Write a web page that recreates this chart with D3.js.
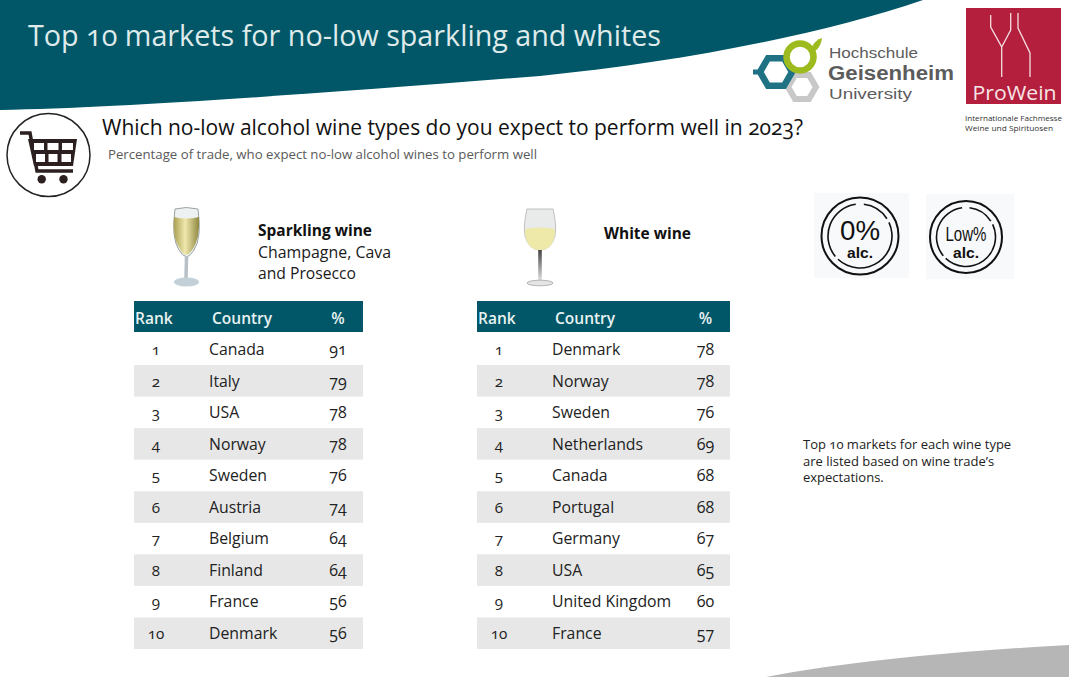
<!DOCTYPE html>
<html><head><meta charset="utf-8">
<script src="https://cdn.jsdelivr.net/npm/d3@7"></script>
<style>
html,body{margin:0;padding:0;background:#fff;overflow:hidden}
svg{display:block}
text{font-family:"Open Sans","Noto Sans",sans-serif;font-feature-settings:"onum";font-variant-numeric:oldstyle-nums}
text.lib{font-family:"Liberation Sans",sans-serif;font-feature-settings:normal;font-variant-numeric:normal}
</style></head><body>
<svg id="c" width="1080" height="694"></svg>
<script>
const ranks=[1,2,3,4,5,6,7,8,9,10];
const sparklingCountries=["Canada","Italy","USA","Norway","Sweden","Austria","Belgium","Finland","France","Denmark"];
const sparklingValues=[91,79,78,78,76,74,64,64,56,56];
const whiteCountries=["Denmark","Norway","Sweden","Netherlands","Canada","Portugal","Germany","USA","United Kingdom","France"];
const whiteValues=[78,78,76,69,68,68,67,65,60,57];
const headers=["Rank","Country","%"];
const teal="#015767";
const svg=d3.select("#c");
const T=(x,y,s,size,o={})=>{const t=svg.append("text").attr("x",x).attr("y",y).text(s).attr("font-size",size)
  .attr("fill",o.fill||"#1a1a1a").attr("font-weight",o.w||400).attr("text-anchor",o.a||"start");
  if(o.c)t.attr("class",o.c); if(o.len)t.attr("textLength",o.len).attr("lengthAdjust","spacingAndGlyphs"); return t;};

// banner
svg.append("path").attr("d","M0,0H923C820,35 680,62 540,76C300,95 120,108 0,110Z").attr("fill",teal);
T(28,46,"Top 10 markets for no-low sparkling and whites",28.7,{fill:"#dfeaea",len:633});
// bottom band
svg.append("path").attr("d","M766,677C850,661 960,651 1069,645V677Z").attr("fill","#b6b6b6");

// heading
T(102,135,"Which no-low alcohol wine types do you expect to perform well in 2023?",21,{fill:"#111",len:701});
T(108,159,"Percentage of trade, who expect no-low alcohol wines to perform well",13,{fill:"#5a5a5a",len:429});

// cart icon
const ink="#2b1f1f";
const cart=svg.append("g");
cart.append("circle").attr("cx",48.5).attr("cy",155).attr("r",41.5).attr("fill","#fff").attr("stroke","#222").attr("stroke-width",1.5);
cart.append("path").attr("d","M20,133H30L37,171H73").attr("fill","none").attr("stroke",ink).attr("stroke-width",3.5);
cart.append("path").attr("d","M28,139H77L73,166H34Z").attr("fill",ink);
[[34,143,10,7],[47.5,143,11,7],[62,143,11,7],[36,154,9,8],[48.5,154,9,8],[61.5,154,9.5,8]].forEach(p=>
  cart.append("rect").attr("x",p[0]).attr("y",p[1]).attr("width",p[2]).attr("height",p[3]).attr("fill","#fff"));
[41.7,63.5].forEach(x=>cart.append("circle").attr("cx",x).attr("cy",179.3).attr("r",4.2).attr("fill",ink));

// sparkling glass
const g1=svg.append("g");
const defs=svg.append("defs");
const lg=defs.append("linearGradient").attr("id","chmp");
[["0","#a89f50"],["0.45","#f0e8ad"],["1","#8f8840"]].forEach(s=>lg.append("stop").attr("offset",s[0]).attr("stop-color",s[1]));
const lw=defs.append("linearGradient").attr("id","stem").attr("x1",0).attr("x2",0).attr("y1",0).attr("y2",1);
[["0","#444"],["1","#ddd"]].forEach(s=>lw.append("stop").attr("offset",s[0]).attr("stop-color",s[1]));
g1.append("path").attr("d","M175,209Q186,206 198,209Q202,238 194,250Q190,256 187,257Q182,256 179,250Q171,238 175,209Z").attr("fill","#eef1f1").attr("stroke","#9aa3a3");
g1.append("path").attr("d","M174,217Q186,220 199,217Q200,238 193,249Q189,254 187,255Q182,254 180,249Q172,238 174,217Z").attr("fill","url(#chmp)");
g1.append("path").attr("d","M186.5,256L186,279").attr("stroke","#b7c1c7").attr("stroke-width",3.5);
g1.append("ellipse").attr("cx",186.5).attr("cy",282).attr("rx",12.5).attr("ry",4.5).attr("fill","#c3d0d8");

// white glass
const g2=svg.append("g");
g2.append("path").attr("d","M527,209H553Q557,225 555,236Q551,250 540,250Q529,250 525,236Q523,225 527,209Z").attr("fill","#e9eaea").attr("stroke","#aaa").attr("stroke-width",.7);
g2.append("path").attr("d","M525,229Q540,226 555,229Q555,250 540,250Q525,250 525,229Z").attr("fill","#efe9a9");
g2.append("rect").attr("x",538.2).attr("y",250).attr("width",3.6).attr("height",30).attr("fill","url(#stem)");
g2.append("ellipse").attr("cx",540).attr("cy",283).attr("rx",13).attr("ry",2.8).attr("fill","#e5e5e5").attr("stroke","#999").attr("stroke-width",.7);

// type labels
T(258,236,"Sparkling wine",15.4,{w:700,fill:"#111",len:114});
T(258,258,"Champagne, Cava",15.9,{len:133});
T(258,279,"and Prosecco",15.9,{len:98});
T(604,238.5,"White wine",15.4,{w:700,fill:"#111",len:87});

// alcohol badges
function ring(cx,cy,r){
  const arc=d3.arc().innerRadius(r-.8).outerRadius(r+.8);
  [[0.12,1.0],[1.13,3.9],[4.02,6.15]].forEach(a=>svg.append("path")
    .attr("transform",`translate(${cx},${cy})`).attr("d",arc({startAngle:a[0],endAngle:a[1]})).attr("fill","#111"));
}
function badge(cx,cy,bx,bw,top,bottom,topSize,topY,r,topLen){
  svg.append("rect").attr("x",bx).attr("y",cy-43).attr("width",bw).attr("height",85).attr("fill","#f8f9fa");
  svg.append("circle").attr("cx",cx).attr("cy",cy).attr("r",r).attr("fill","none").attr("stroke","#111").attr("stroke-width",2);
  ring(cx,cy,r-6.5);
  T(cx,topY,top,topSize,{a:"middle",fill:"#111",c:"lib",len:topLen});
  T(cx,258,bottom,14,{a:"middle",w:700,fill:"#111",c:"lib",len:26});
}
badge(860,236,814,95,"0%","alc.",28,240,38.5,40);
badge(966,237,926,88,"Low%","alc.",20,241,36,41);

// hochschule logo
const logo=svg.append("g").attr("fill","none");
const hex=(cx,cy,r)=>d3.range(6).map(i=>[cx+r*Math.cos(i*Math.PI/3),cy+r*Math.sin(i*Math.PI/3)]);
logo.append("path").attr("d",d3.line()(hex(802,87,14))+"Z").attr("stroke","#c8c8c8").attr("stroke-width",6);
logo.append("path").attr("d",d3.line()(hex(776,72,16))+"Z").attr("stroke","#1f7184").attr("stroke-width",6.5);
logo.append("circle").attr("cx",800).attr("cy",57).attr("r",13.5).attr("stroke","#9dbb1e").attr("stroke-width",6.5);
logo.append("path").attr("d","M812,47Q815,40 822,38Q821,47 815,51Z").attr("fill","#9dbb1e");
logo.append("path").attr("d","M753,72H760").attr("stroke","#1f7184").attr("stroke-width",5);
T(829,57.5,"Hochschule",15.5,{fill:"#5c5c5c",c:"lib",len:89});
T(828,80,"Geisenheim",20,{fill:"#5c5c5c",w:700,c:"lib",len:126});
T(829,99,"University",15.5,{fill:"#5c5c5c",c:"lib",len:83});

// prowein logo
svg.append("rect").attr("x",966).attr("y",8).attr("width",95).attr("height",96).attr("fill","#b51f3e");
svg.append("path").attr("d","M990.7,15V27L1001.7,47V77M1010.7,13V30L1001.7,47M1018,13V28L1030,53V77").attr("fill","none").attr("stroke","#f3dfe0").attr("stroke-width",1.3);
T(1014.5,100,"ProWein",20.5,{a:"middle",fill:"#f5e6e6",len:84});
T(965,121,"Internationale Fachmesse",8,{fill:"#333",len:97});
T(965,131,"Weine und Spirituosen",8,{fill:"#333",len:88});

// tables
function table(x0,width,valCx,countries,values){
  const y=d3.scaleBand().domain(ranks).range([333.5,649]);
  svg.append("rect").attr("x",x0).attr("y",301).attr("width",width).attr("height",31).attr("fill",teal);
  const hs={fill:"#e8f2f2",w:600};
  T(x0+1,323.5,headers[0],15.5,hs);
  T(x0+78,323.5,headers[1],15.5,hs);
  T(valCx,323.5,headers[2],15.5,{...hs,a:"middle"});
  ranks.forEach((r,i)=>{
    if(i%2===1) svg.append("rect").attr("x",x0).attr("y",y(r)).attr("width",width).attr("height",y.bandwidth()).attr("fill","#e7e7e7");
    const by=y(r)+y.bandwidth()/2+5.8;
    T(x0+22,by,r,15.2,{a:"middle",fill:"#222"});
    T(x0+75,by,countries[i],15.8,{fill:"#222"});
    T(valCx,by,values[i],16,{a:"middle",fill:"#222"});
  });
}
table(134,229,338,sparklingCountries,sparklingValues);
table(477,253,705.5,whiteCountries,whiteValues);

// note
["Top 10 markets for each wine type","are listed based on wine trade’s","expectations."].forEach((s,i)=>T(803,449+i*16.5,s,13,{fill:"#222"}));
</script></body></html>
